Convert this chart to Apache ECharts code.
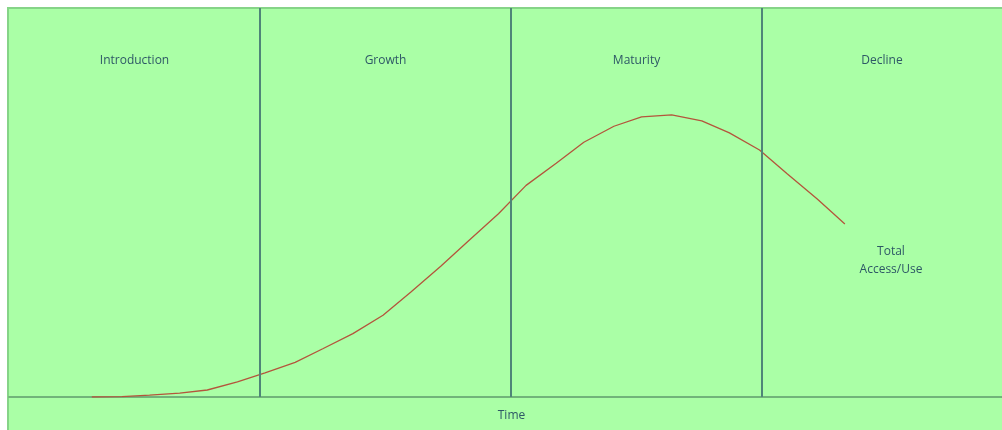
<!DOCTYPE html>
<html>
<head>
<meta charset="utf-8">
<script src="https://cdn.jsdelivr.net/npm/echarts@6/dist/echarts.min.js"></script>
<style>
html,body{margin:0;padding:0;background:#ffffff;}
#c{width:1002px;height:430px;}
</style>
</head>
<body>
<div id="c"></div>
<script>
// Phase names (each phase is one unit wide on the x axis)
const phases = ['Introduction', 'Growth', 'Maturity', 'Decline'];
const phaseBounds = [1, 2, 3];
const xAxisName = 'Time';
const seriesName = 'Total\nAccess/Use';
// Time positions (in phase units) and total access/use values (0..100)
const time = [0.33, 0.45, 0.56, 0.68, 0.79, 0.91, 1.02, 1.14, 1.25, 1.37, 1.49, 1.60, 1.72, 1.83,
              1.95, 2.06, 2.18, 2.29, 2.41, 2.52, 2.64, 2.76, 2.87, 2.99, 3.10, 3.22, 3.33];
const usage = [0, 0.1, 0.5, 1.0, 1.8, 3.9, 6.2, 8.9, 12.4, 16.3, 21.0, 26.9, 33.6, 40.1,
               47.1, 54.4, 60.1, 65.5, 69.6, 72.0, 72.5, 71.0, 67.9, 63.5, 57.4, 50.9, 44.5];

const textColor = '#2e5866';
const font = '"Open Sans", "Liberation Sans", sans-serif';

const chart = echarts.init(document.getElementById('c'), null, {renderer: 'canvas'});
chart.setOption({
  animation: false,
  backgroundColor: '#ffffff',
  graphic: [
    {type: 'rect', z: -10, shape: {x: 8, y: 8, width: 1010, height: 440},
     style: {fill: '#aaffa6', stroke: '#86d488', lineWidth: 2}},
    {type: 'text', x: 891, y: 243, z: 10,
     style: {text: seriesName, fill: textColor, font: '12px ' + font, lineHeight: 18, align: 'center', verticalAlign: 'top'}}
  ],
  grid: {left: 9, top: 8, right: 0, bottom: 33, containLabel: false},
  xAxis: {
    type: 'value', min: 0, max: 3.956,
    name: xAxisName, nameLocation: 'middle', nameGap: 13,
    nameTextStyle: {color: textColor, fontSize: 12, fontFamily: font, padding: [0, 0, 0, 12]},
    axisLine: {show: true, lineStyle: {color: '#5f9c6c', width: 1.5}},
    axisTick: {show: false}, axisLabel: {show: false}, splitLine: {show: false}
  },
  yAxis: {
    type: 'value', min: 0, max: 100,
    axisLine: {show: false}, axisTick: {show: false}, axisLabel: {show: false}, splitLine: {show: false}
  },
  series: [{
    name: seriesName,
    type: 'line',
    data: time.map((t, i) => [t, usage[i]]),
    showSymbol: false,
    smooth: false,
    lineStyle: {color: '#b4553c', width: 1.3},
    markLine: {
      silent: true, symbol: 'none', label: {show: false},
      lineStyle: {color: '#4f8578', width: 2, type: 'solid'},
      data: phaseBounds.map(b => ({xAxis: b}))
    },
    markArea: {
      silent: true,
      itemStyle: {color: 'rgba(0,0,0,0)'},
      label: {show: true, position: 'insideTop', distance: 47, color: textColor, fontSize: 12, fontFamily: font},
      data: phases.map((p, i) => [{name: p, xAxis: i, yAxis: 100}, {xAxis: i + 1, yAxis: 0}])
    }
  }]
});
</script>
</body>
</html>
